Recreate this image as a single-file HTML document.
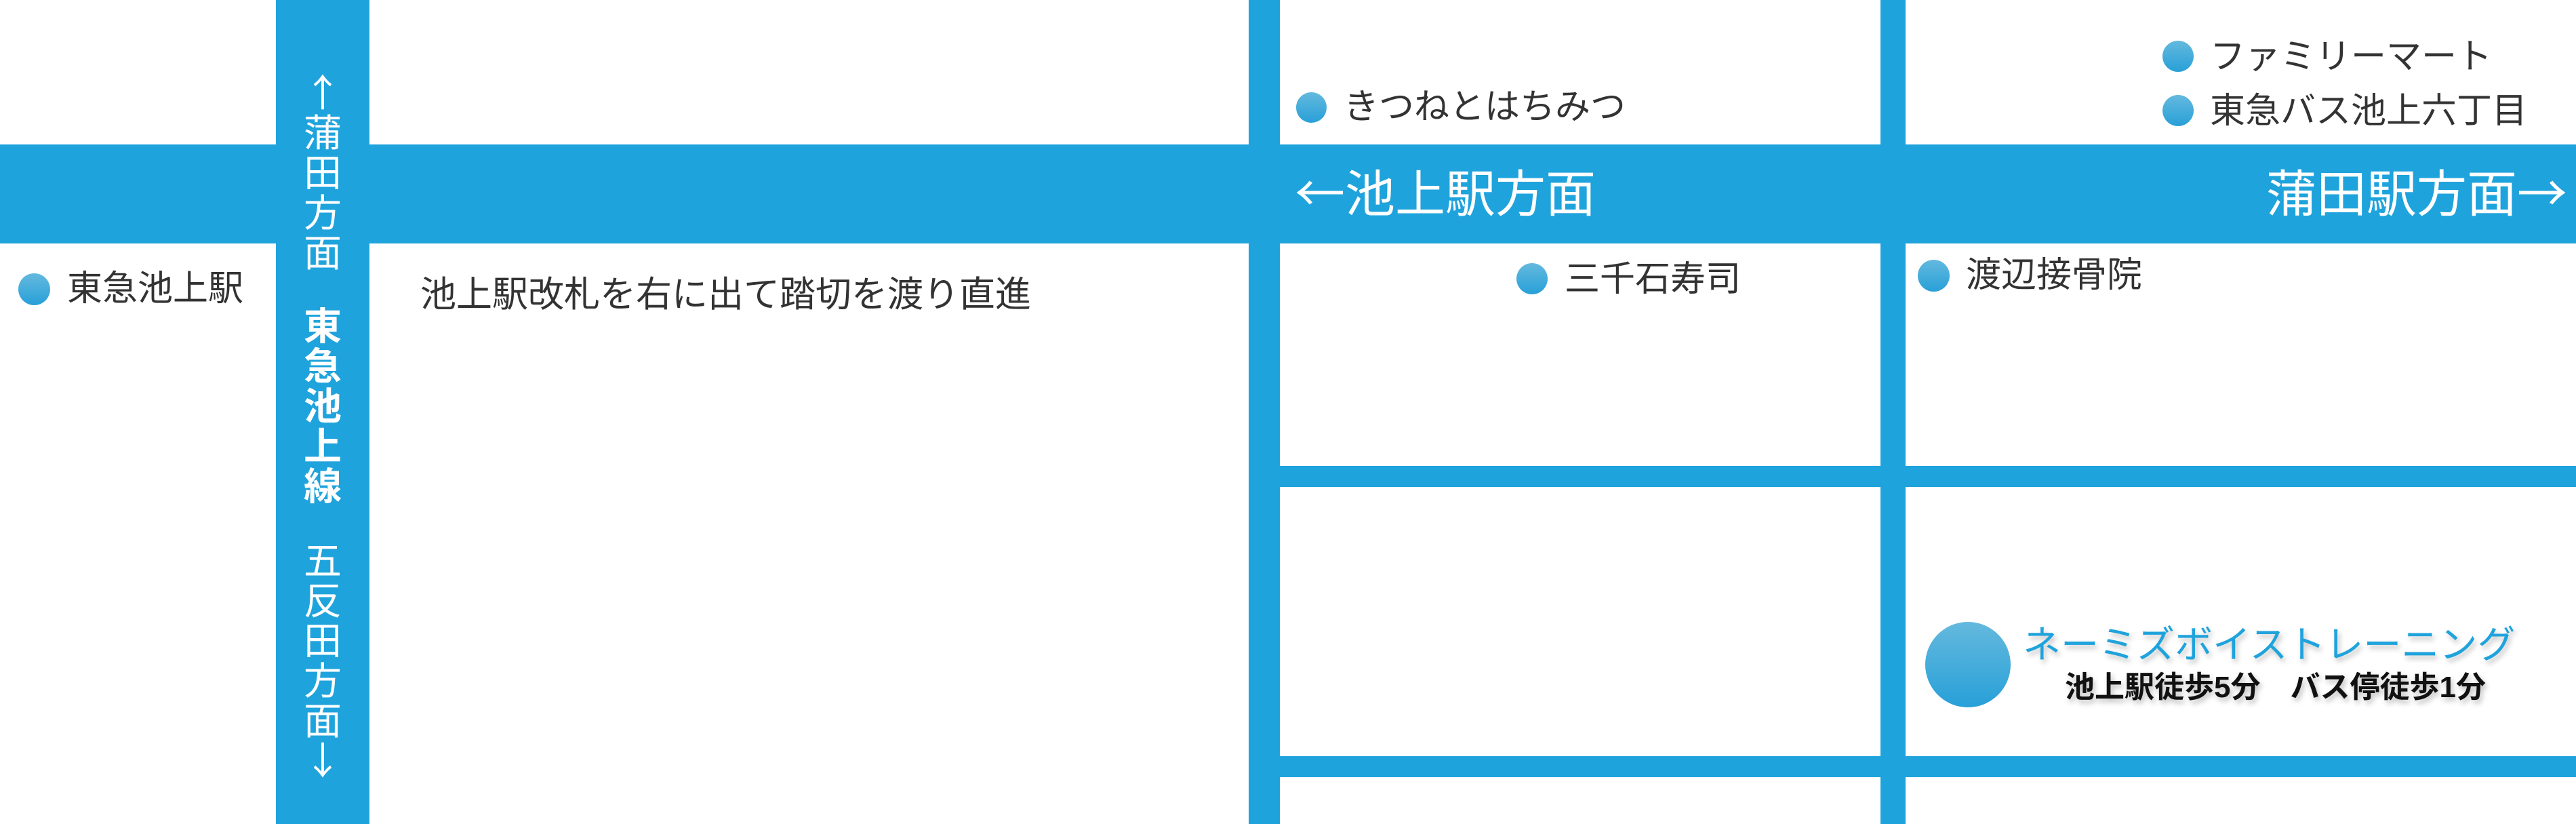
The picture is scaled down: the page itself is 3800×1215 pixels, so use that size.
<!DOCTYPE html>
<html><head><meta charset="utf-8"><style>
html,body{margin:0;padding:0}
body{width:3800px;height:1215px;position:relative;overflow:hidden;background:#fff;font-family:"Liberation Sans","Noto Sans CJK JP",sans-serif;}
.r{position:absolute;background:#1fa3dc}
.t{position:absolute;color:#333;line-height:1;white-space:nowrap}
.d{position:absolute;border-radius:50%;background:linear-gradient(#64b9de,#28a0d8)}
.v{position:absolute;color:#fff;line-height:59px;width:70px;text-align:center;font-family:"Noto Sans CJK JP",sans-serif}
.a{font-family:"Noto Sans CJK JP",sans-serif}
</style></head><body>
<div class="r" style="left:0;top:213px;width:3800px;height:146px"></div>
<div class="r" style="left:407px;top:0;width:138px;height:1215px"></div>
<div class="r" style="left:1842px;top:0;width:46px;height:1215px"></div>
<div class="r" style="left:2774px;top:0;width:37px;height:1215px"></div>
<div class="r" style="left:1888px;top:687px;width:1912px;height:31px"></div>
<div class="r" style="left:1888px;top:1115px;width:1912px;height:31px"></div>

<div class="v" style="left:441px;top:104px;font-size:56px">↑<br>蒲<br>田<br>方<br>面</div>
<div class="v" style="left:441px;top:448px;font-size:56px;font-weight:bold">東<br>急<br>池<br>上<br>線</div>
<div class="v" style="left:441px;top:794px;font-size:56px">五<br>反<br>田<br>方<br>面<br>↓</div>

<div class="t a" style="left:1910px;top:244px;font-size:74px;color:#fff">←池上駅方面</div>
<div class="t a" style="left:3343px;top:244px;font-size:74px;color:#fff">蒲田駅方面→</div>

<div class="d" style="left:27px;top:403px;width:47px;height:47px"></div>
<div class="t" style="left:99px;top:400px;font-size:52px">東急池上駅</div>
<div class="t" style="left:620px;top:408px;font-size:53px">池上駅改札を右に出て踏切を渡り直進</div>

<div class="d" style="left:1912px;top:136px;width:45px;height:45px"></div>
<div class="t" style="left:1982px;top:132px;font-size:52px">きつねとはちみつ</div>
<div class="d" style="left:3190px;top:60px;width:46px;height:46px"></div>
<div class="t" style="left:3260px;top:58px;font-size:52px">ファミリーマート</div>
<div class="d" style="left:3190px;top:140px;width:46px;height:46px"></div>
<div class="t" style="left:3260px;top:138px;font-size:52px">東急バス池上六丁目</div>
<div class="d" style="left:2237px;top:388px;width:46px;height:46px"></div>
<div class="t" style="left:2308px;top:386px;font-size:52px">三千石寿司</div>
<div class="d" style="left:2829px;top:383px;width:47px;height:47px"></div>
<div class="t" style="left:2900px;top:380px;font-size:52px">渡辺接骨院</div>

<div class="d" style="left:2840px;top:917px;width:126px;height:126px"></div>
<div class="t" style="left:2984px;top:923px;font-size:56px;color:#1fa3dc;text-shadow:3px 5px 8px rgba(0,0,0,.25)">ネーミズボイストレーニング</div>
<div class="t" style="left:3046px;top:992px;font-size:44px;color:#111;font-weight:bold;text-shadow:3px 5px 8px rgba(0,0,0,.25)">池上駅徒歩5分　バス停徒歩1分</div>
</body></html>
